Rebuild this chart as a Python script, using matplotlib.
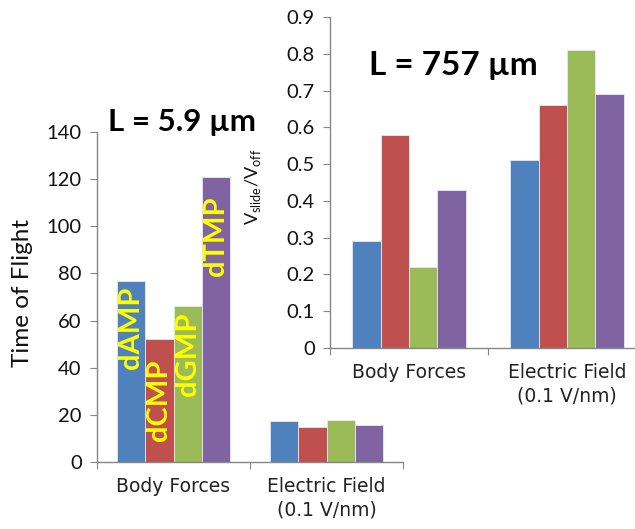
import matplotlib.pyplot as plt
import numpy as np

# categories and nucleotides
groups = ['Body Forces', 'Electric Field\n(0.1 V/nm)']
nucleotides = ['dAMP', 'dCMP', 'dGMP', 'dTMP']
colors = ['#4F81BD', '#C0504D', '#9BBB59', '#8064A2']

# L = 5.9 um, time of flight
tof_body = [77, 52, 66, 121]
tof_field = [17.2, 14.7, 17.8, 15.8]

# L = 757 um, Vslide / Voff
vratio_body = [0.29, 0.58, 0.22, 0.43]
vratio_field = [0.51, 0.66, 0.81, 0.69]

GRAY = '#868686'


def styleAxes(ax, ymax, ystep):
    # Excel-like look: only left and bottom spines, outward ticks
    for side in ['top', 'right']:
        ax.spines[side].set_visible(False)
    for side in ['left', 'bottom']:
        ax.spines[side].set_color(GRAY)
        ax.spines[side].set_linewidth(1.0)
    ax.set_xlim(-0.5, 1.5)
    ax.set_ylim(0, ymax)
    ax.set_yticks(np.arange(0, ymax + ystep / 2, ystep))
    ax.set_xticks([-0.5, 0.5, 1.5])
    ax.set_xticklabels([])
    ax.set_xticks([0, 1], minor=True)
    ax.set_xticklabels(groups, minor=True, fontsize=13.5, family='DejaVu Sans',
                       color='#222222', va='top', linespacing=1.25)
    ax.tick_params(axis='x', which='minor', length=0, pad=11)
    ax.tick_params(axis='x', which='major', length=5, color=GRAY, direction='out')
    ax.tick_params(axis='y', length=5, color=GRAY, direction='out', pad=6,
                   labelsize=14.5, labelcolor='#111111')
    for lab in ax.get_yticklabels():
        lab.set_family('Lato')


def drawBars(ax, bodyVals, fieldVals, width):
    x = np.arange(len(groups))
    offsets = (np.arange(len(nucleotides)) - 1.5) * width
    for i in range(len(nucleotides)):
        vals = [bodyVals[i], fieldVals[i]]
        ax.bar(x + offsets[i], vals, width=width, color=colors[i],
               edgecolor='#e8e8f0', linewidth=0.6, label=nucleotides[i])
    return offsets


fig = plt.figure(figsize=(6.35, 5.29), dpi=100)

# left (main) chart
ax1 = fig.add_axes([97 / 635, 67 / 529, 306 / 635, 330 / 529])
styleAxes(ax1, 140, 20)
offs = drawBars(ax1, tof_body, tof_field, 0.186)
ax1.set_ylabel('Time of Flight', fontsize=17.5, family='Lato', color='#111111')
ax1.yaxis.set_label_coords(-0.209, 0.512)

# yellow nucleotide names written inside the body-force bars
label_tops = [74.5, 43.5, 63.5, 112.5]
for i in range(len(nucleotides)):
    ax1.text(offs[i], label_tops[i], nucleotides[i], rotation=90, color='#FFFF00',
             fontsize=21, fontweight='bold', family='Lato', ha='center', va='top')

fig.text(182 / 635, 1 - 122 / 529, 'L = 5.9 µm', fontsize=22.5, fontweight='bold',
         family='Lato', ha='center', va='center')

# right (inset) chart
ax2 = fig.add_axes([330 / 635, 181 / 529, 316 / 635, 331 / 529])
styleAxes(ax2, 0.9, 0.1)
ax2.yaxis.set_major_formatter(plt.FuncFormatter(lambda v, p: '0' if v == 0 else '%.1f' % v))
drawBars(ax2, vratio_body, vratio_field, 0.18)
ax2.set_ylabel(r'V$_{\mathregular{slide}}$/V$_{\mathregular{off}}$', fontsize=13,
               family='Lato', color='#111111')
ax2.yaxis.set_label_coords(-0.212, 0.486)

fig.text(453 / 635, 1 - 66 / 529, 'L = 757 µm', fontsize=24, fontweight='bold',
         family='Lato', ha='center', va='center')

fig.savefig('out.png', dpi=100)
